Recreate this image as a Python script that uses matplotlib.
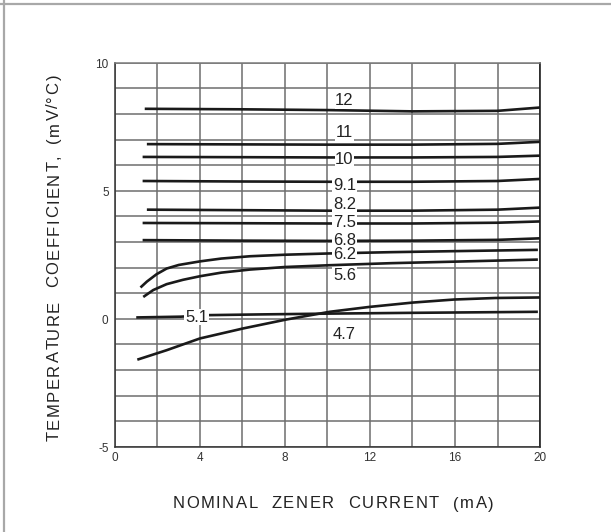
import numpy as np
import matplotlib.pyplot as plt
from matplotlib.lines import Line2D
from matplotlib.textpath import TextToPath
from matplotlib.font_manager import FontProperties

plt.rcParams['font.family'] = ['Liberation Sans', 'DejaVu Sans']

# zener voltage curves: (current mA, temp coefficient mV/C)
v12_x = [1.4, 6, 10, 14, 18, 20]
v12_y = [8.2, 8.18, 8.15, 8.1, 8.12, 8.25]
v11_x = [1.5, 6, 10, 14, 18, 20]
v11_y = [6.82, 6.81, 6.8, 6.8, 6.83, 6.91]
v10_x = [1.3, 6, 10, 14, 18, 20]
v10_y = [6.32, 6.31, 6.3, 6.3, 6.32, 6.37]
v91_x = [1.3, 6, 10, 14, 18, 20]
v91_y = [5.38, 5.36, 5.35, 5.35, 5.38, 5.46]
v82_x = [1.5, 6, 10, 14, 18, 20]
v82_y = [4.26, 4.24, 4.22, 4.22, 4.26, 4.34]
v75_x = [1.3, 6, 10, 14, 18, 20]
v75_y = [3.74, 3.73, 3.72, 3.72, 3.75, 3.8]
v68_x = [1.3, 6, 10, 14, 18, 20]
v68_y = [3.07, 3.05, 3.04, 3.05, 3.08, 3.14]
v62_x = [1.2, 1.5, 1.96, 2.43, 3.0, 4.0, 5.0, 6.35, 8.0, 10.1, 13, 16, 19.9]
v62_y = [1.22, 1.45, 1.74, 1.96, 2.1, 2.24, 2.35, 2.44, 2.5, 2.55, 2.6, 2.64, 2.69]
v56_x = [1.33, 1.8, 2.43, 3.2, 4.0, 5.0, 6.35, 8.0, 10.1, 13, 16, 19.9]
v56_y = [0.85, 1.12, 1.35, 1.52, 1.66, 1.8, 1.92, 2.02, 2.09, 2.17, 2.23, 2.31]
v51_x = [1.0, 3.1, 4.4, 7, 10.1, 14, 17, 19.9]
v51_y = [0.05, 0.08, 0.14, 0.17, 0.2, 0.23, 0.25, 0.27]
v47_x = [1.05, 2.43, 4.0, 6.03, 8.07, 10.1, 11.96, 14, 15.96, 17.9, 20]
v47_y = [-1.6, -1.23, -0.77, -0.38, -0.03, 0.27, 0.46, 0.63, 0.75, 0.81, 0.83]

curves = [(v12_x, v12_y), (v11_x, v11_y), (v10_x, v10_y), (v91_x, v91_y),
          (v82_x, v82_y), (v75_x, v75_y), (v68_x, v68_y), (v62_x, v62_y),
          (v56_x, v56_y), (v51_x, v51_y), (v47_x, v47_y)]

labels = ['12', '11', '10', '9.1', '8.2', '7.5', '6.8', '6.2', '5.6', '5.1', '4.7']
label_x = [10.8, 10.8, 10.8, 10.8, 10.8, 10.8, 10.8, 10.8, 10.8, 3.84, 10.8]
label_y = [8.53, 7.26, 6.22, 5.21, 4.47, 3.74, 3.07, 2.52, 1.70, 0.06, -0.6]

x_ticks = [0, 4, 8, 12, 16, 20]
y_ticks = [-5, 0, 5, 10]

W, H, DPI = 611, 532, 100
fig = plt.figure(figsize=(W / DPI, H / DPI), dpi=DPI)
ax = fig.add_axes([0.1882, 0.1603, 0.6956, 0.7218])

ax.set_xlim(0, 20)
ax.set_ylim(-5, 10)
ax.set_xticks(np.arange(0, 21, 2))
ax.set_yticks(np.arange(-5, 11, 1))
ax.grid(True, color='#6e6e6e', lw=1.1)
ax.tick_params(length=0, labelbottom=False, labelleft=False)
ax.spines['top'].set_color('#7a7a7a')
ax.spines['left'].set_color('#333333')
ax.spines['bottom'].set_color('#333333')
ax.spines['right'].set_color('#111111')
for s in ax.spines.values():
    s.set_linewidth(1.1)

for cx, cy in curves:
    ax.plot(cx, cy, color='#1a1a1a', lw=1.9, solid_capstyle='butt', zorder=3)

for t, lx, ly in zip(labels, label_x, label_y):
    ax.text(lx, ly, t, fontsize=12, ha='center', va='center', color='#222222',
            bbox=dict(facecolor='white', edgecolor='none', pad=0.5), zorder=4)

for v in x_ticks:
    ax.text(v, -5.45, str(v), fontsize=8.5, ha='center', va='center', color='#333333')
for v in y_ticks:
    ax.text(-0.3, v - 0.08, str(v), fontsize=8.5, ha='right', va='center', color='#333333')


# axis titles are letter-spaced, so place them one character at a time
ttp = TextToPath()


def spaced_text(s, cx, cy, size, spacing, vertical=False):
    prop = FontProperties(family='Liberation Sans', size=size)
    base = ttp.get_text_width_height_descent('xx', prop, ismath=False)[0]
    pos = []
    for i in range(len(s) + 1):
        w = ttp.get_text_width_height_descent('x' + s[:i] + 'x', prop, ismath=False)[0] - base
        pos.append(w * DPI / 72 + i * spacing)
    total = pos[-1] - spacing
    for i, c in enumerate(s):
        if c == ' ':
            continue
        off = pos[i] - total / 2
        if vertical:
            fig.text(cx / W, 1 - (cy - off) / H, c, fontsize=size, rotation=90,
                     rotation_mode='anchor', ha='left', va='baseline', color='#222222')
        else:
            fig.text((cx + off) / W, 1 - cy / H, c, fontsize=size,
                     ha='left', va='baseline', color='#222222')


spaced_text('NOMINAL  ZENER  CURRENT  (mA)', 333, 508.5, 12, 1.6)
spaced_text('TEMPERATURE  COEFFICIENT,  (mV/°C)', 58.5, 257.5, 12, 1.5, vertical=True)

# light frame lines on top and left of the figure
fig.add_artist(Line2D([0, 1], [0.993, 0.993], transform=fig.transFigure, color='#a8a8a8', lw=1.6))
fig.add_artist(Line2D([0.007, 0.007], [0, 1], transform=fig.transFigure, color='#a8a8a8', lw=1.6))

fig.savefig('out.png', dpi=DPI)
